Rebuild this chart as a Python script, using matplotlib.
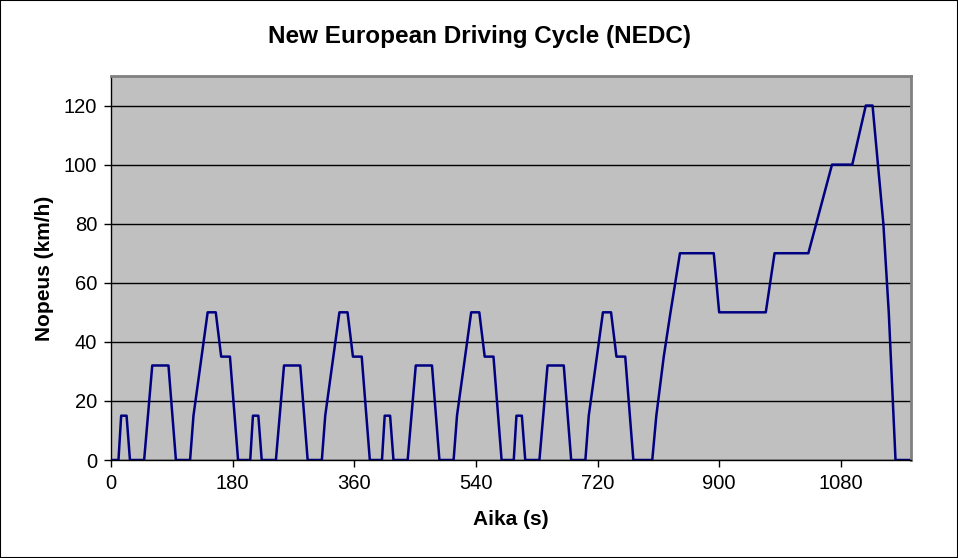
import matplotlib
matplotlib.use("Agg")
import matplotlib.pyplot as plt
from matplotlib.patches import Rectangle

plt.rcParams['font.family'] = ['Liberation Sans', 'DejaVu Sans']

# ECE-15 urban cycle breakpoints (time in s, speed in km/h), repeated 4 times
ece_time = [0, 11, 15, 23, 28, 49, 61, 85, 96, 117, 122, 143, 155, 163, 176, 188, 195]
ece_speed = [0, 0, 15, 15, 0, 0, 32, 32, 0, 0, 15, 50, 50, 35, 35, 0, 0]
ece_starts = [0, 195, 390, 585]

# EUDC extra-urban part
eudc_time = [780, 801, 807, 818, 828, 842, 892, 900, 969, 982, 1032, 1067, 1097,
             1117, 1127, 1143, 1151, 1161, 1184]
eudc_speed = [0, 0, 15, 35, 50, 70, 70, 50, 50, 70, 70, 100, 100,
              120, 120, 80, 50, 0, 0]

x_ticks = [0, 180, 360, 540, 720, 900, 1080]
y_ticks = [0, 20, 40, 60, 80, 100, 120]

time = []
speed = []
for s in ece_starts:
    for t, v in zip(ece_time, ece_speed):
        time.append(s + t)
        speed.append(v)
time += eudc_time
speed += eudc_speed

fig = plt.figure(figsize=(9.58, 5.58), dpi=100)
fig.patch.set_facecolor('white')
fig.patches.append(Rectangle((0, 0), 1, 1, transform=fig.transFigure,
                             fill=False, edgecolor='black', linewidth=1.5))

ax = fig.add_axes([0.1159, 0.1756, 0.8351, 0.6882])
ax.set_facecolor('#C0C0C0')
ax.plot(time, speed, color='#000080', linewidth=1.8)

ax.set_xlim(0, 1184)
ax.set_ylim(0, 130)
ax.set_xticks(x_ticks)
ax.set_yticks(y_ticks)
ax.yaxis.grid(True, color='black', linewidth=1)
ax.set_axisbelow(True)

for side in ['top', 'right']:
    ax.spines[side].set_color('#808080')
    ax.spines[side].set_linewidth(2)
for side in ['left', 'bottom']:
    ax.spines[side].set_color('black')
    ax.spines[side].set_linewidth(1)

ax.tick_params(direction='out', length=5, width=1, labelsize=14.5, pad=5)

ax.set_xlabel('Aika (s)', fontsize=15, fontweight='bold', labelpad=12)
ax.set_ylabel('Nopeus (km/h)', fontsize=15, fontweight='bold', labelpad=7)
fig.text(0.5, 0.934, 'New European Driving Cycle (NEDC)', ha='center', va='center',
         fontsize=17.5, fontweight='bold')

fig.savefig('out.png', dpi=100)
